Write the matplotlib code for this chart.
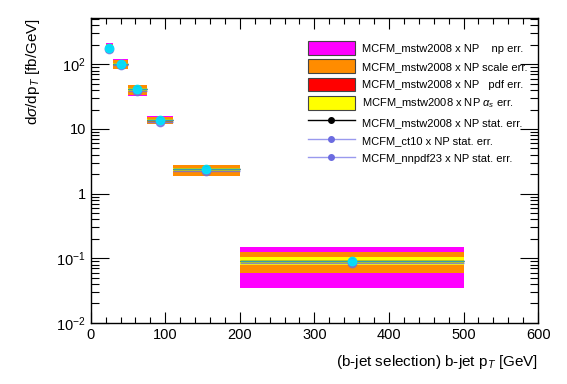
import matplotlib
matplotlib.use('Agg')
import matplotlib.pyplot as plt
from matplotlib.patches import Patch
from matplotlib.lines import Line2D
import numpy as np

plt.rcParams['font.family'] = ['Liberation Sans', 'DejaVu Sans']
plt.rcParams['mathtext.fontset'] = 'custom'
plt.rcParams['mathtext.rm'] = 'Liberation Sans'
plt.rcParams['mathtext.it'] = 'Liberation Sans:italic'

# bin edges in b-jet pT [GeV]
bin_lo = [20, 30, 50, 75, 110, 200]
bin_hi = [30, 50, 75, 110, 200, 500]
bin_x = [25, 40, 62.5, 92.5, 155, 350]

# central values MCFM_mstw2008 x NP [fb/GeV]
mstw = [182, 102, 41, 13.8, 2.4, 0.09]
ct10 = [170, 96, 38.5, 12.9, 2.25, 0.085]
nnpdf = [182, 102, 41, 13.8, 2.4, 0.09]

# relative errors (up, down)
np_up = [0.18, 0.17, 0.18, 0.14, 0.17, 0.64]
np_dn = [0.19, 0.17, 0.20, 0.13, 0.23, 0.61]
scale_up = [0.15, 0.15, 0.15, 0.12, 0.15, 0.37]
scale_dn = [0.17, 0.16, 0.18, 0.12, 0.21, 0.35]
pdf_up = [0.03, 0.03, 0.03, 0.03, 0.04, 0.10]
pdf_dn = [0.03, 0.03, 0.03, 0.03, 0.04, 0.09]
as_up = [0.04, 0.04, 0.04, 0.04, 0.05, 0.15]
as_dn = [0.04, 0.04, 0.04, 0.04, 0.05, 0.12]

# stat errors (relative)
stat_mstw = [0.02, 0.02, 0.02, 0.02, 0.02, 0.02]
stat_ct10 = [0.02, 0.02, 0.02, 0.02, 0.02, 0.02]
stat_nnpdf = [0.02, 0.02, 0.02, 0.02, 0.02, 0.02]

labels = ['MCFM_mstw2008 x NP    np err.',
          'MCFM_mstw2008 x NP scale err.',
          'MCFM_mstw2008 x NP   pdf err.',
          r'MCFM_mstw2008 x NP $\alpha_s$ err.',
          'MCFM_mstw2008 x NP stat. err.',
          'MCFM_ct10 x NP stat. err.',
          'MCFM_nnpdf23 x NP stat. err.']

lo = np.array(bin_lo, float)
hi = np.array(bin_hi, float)
xc = np.array(bin_x, float)
y = np.array(mstw, float)
w = hi - lo

fig = plt.figure(figsize=(5.67, 3.84), dpi=100)
ax = fig.add_axes([0.160, 0.159, 0.789, 0.794])

bands = [(np_up, np_dn, '#ff00ff'),
         (scale_up, scale_dn, '#ff8c00'),
         (pdf_up, pdf_dn, '#ff0000'),
         (as_up, as_dn, '#ffff00')]
for up, dn, col in bands:
    top = y * (1 + np.array(up))
    bot = y * (1 - np.array(dn))
    ax.bar(lo, top - bot, bottom=bot, width=w, align='edge', color=col,
           linewidth=0, zorder=2)

ax.errorbar(xc, y, xerr=[xc - lo, hi - xc], yerr=y * np.array(stat_mstw),
            fmt='o', color='black', ms=5, lw=1, capsize=0, zorder=3)
c10 = np.array(ct10, float)
ax.errorbar(xc, c10, xerr=[xc - lo, hi - xc], yerr=c10 * np.array(stat_ct10),
            fmt='o', color='#7070e0', ms=6, lw=1, alpha=0.8, capsize=0, zorder=4)
nn = np.array(nnpdf, float)
ax.errorbar(xc, nn, xerr=[xc - lo, hi - xc], yerr=nn * np.array(stat_nnpdf),
            fmt='o', color='#40b0c0', mfc='#00e5ff', mec='#00e5ff', ms=6, lw=1,
            alpha=0.9, capsize=0, zorder=5)

ax.set_yscale('log')
ax.set_xlim(0, 600)
ax.set_ylim(0.01, 520)
ax.set_yticks([0.01, 0.1, 1, 10, 100])
ax.set_yticklabels([r'$10^{-2}$', r'$10^{-1}$', '1', '10', r'$10^{2}$'])
ax.set_xticks(np.arange(0, 601, 100))
ax.set_xticks(np.arange(0, 601, 20), minor=True)
ax.tick_params(which='both', direction='in', top=True, right=True, labelsize=10.5)
ax.tick_params(which='major', length=8, width=0.8)
ax.tick_params(which='minor', length=4, width=0.8)
ax.tick_params(axis='y', which='major', length=13)
ax.tick_params(axis='y', which='minor', length=6)
for s in ax.spines.values():
    s.set_linewidth(1)

ax.set_xlabel(r'(b-jet selection) b-jet p$_T$ [GeV]', fontsize=11, loc='right', labelpad=8)
ax.set_ylabel(r'd$\sigma$/dp$_T$ [fb/GeV]', fontsize=11, loc='top', labelpad=10)

handles = [Patch(facecolor='#ff00ff', edgecolor='#444444', lw=0.8),
           Patch(facecolor='#ff8c00', edgecolor='#444444', lw=0.8),
           Patch(facecolor='#ff0000', edgecolor='#444444', lw=0.8),
           Patch(facecolor='#ffff00', edgecolor='#444444', lw=0.8),
           Line2D([], [], color='black', marker='o', ms=4, lw=1),
           Line2D([], [], color='#9999ee', marker='o', mfc='#6b6be0', mec='#6b6be0', ms=4, lw=1),
           Line2D([], [], color='#9999ee', marker='o', mfc='#6b6be0', mec='#6b6be0', ms=4, lw=1)]
fig.legend(handles, labels, loc='upper left', bbox_to_anchor=(0.543, 0.893),
           frameon=False, fontsize=8, handlelength=4.25, handleheight=1.5,
           handletextpad=0.62, labelspacing=0.43, borderpad=0, borderaxespad=0)

fig.savefig('out.png', dpi=100)
